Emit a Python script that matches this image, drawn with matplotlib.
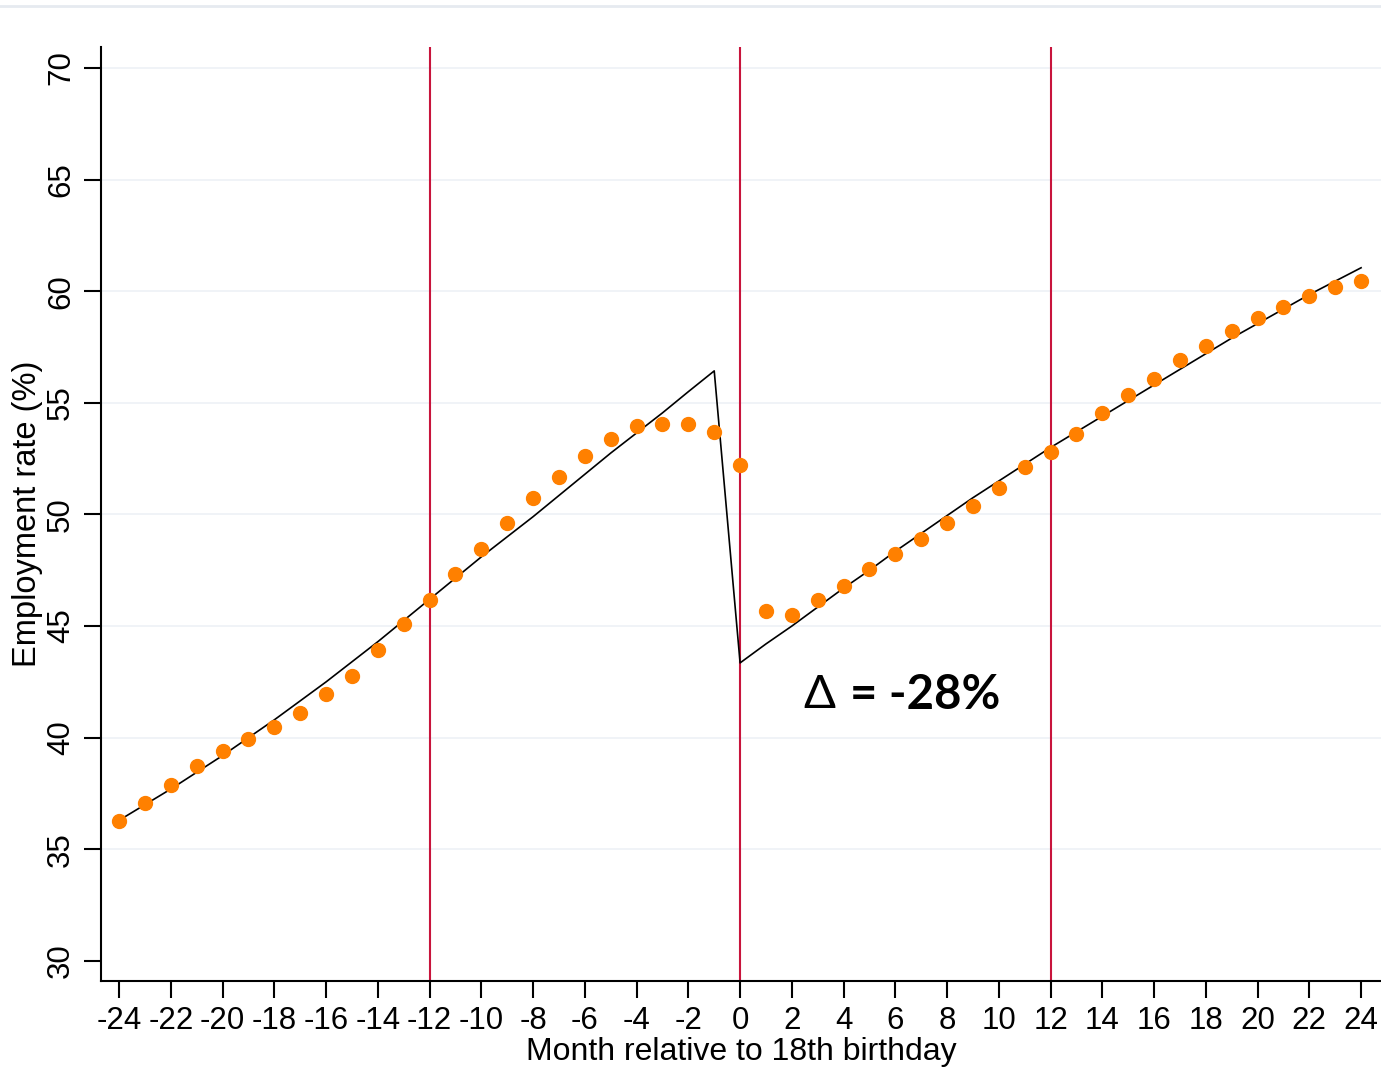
import numpy as np
import matplotlib.pyplot as plt
from matplotlib.lines import Line2D

# months relative to 18th birthday
months = list(range(-24, 25))

# monthly employment rate (%)
employment = [36.27, 37.08, 37.88, 38.73, 39.41, 39.94, 40.48, 41.11, 41.96, 42.77,
              43.93, 45.10, 46.17, 47.33, 48.45, 49.62, 50.74, 51.68, 52.62, 53.38,
              53.96, 54.05, 54.05, 53.70, 52.22, 45.68, 45.50, 46.17, 46.80, 47.56,
              48.23, 48.90, 49.62, 50.38, 51.19, 52.13, 52.80, 53.61, 54.55, 55.35,
              56.07, 56.92, 57.55, 58.22, 58.80, 59.29, 59.79, 60.19, 60.46]

# fitted trend, before and after the birthday
fit_pre = [36.3, 37.0, 37.7, 38.45, 39.2, 40.0, 40.8, 41.65, 42.5, 43.4, 44.3, 45.25,
           46.2, 47.15, 48.1, 49.0, 49.9, 50.85, 51.8, 52.75, 53.65, 54.55, 55.5, 56.43]
fit_post = [43.35, 44.2, 45.0, 45.85, 46.7, 47.5, 48.35, 49.15, 49.95, 50.75, 51.5,
            52.25, 53.0, 53.7, 54.4, 55.1, 55.8, 56.5, 57.2, 57.9, 58.55, 59.2,
            59.85, 60.45, 61.05]

cutoffs = [-12, 0, 12]
yticks = [30, 35, 40, 45, 50, 55, 60, 65, 70]
xticks = list(range(-24, 25, 2))
jump_symbol = '\u0394'
jump_value = '= -28%'

tick_font = ['Liberation Sans', 'DejaVu Sans']

fig = plt.figure(figsize=(13.81, 10.67), dpi=100)
ax = fig.add_axes([101 / 1381, 86 / 1067, 1 - 101 / 1381, 934 / 1067])

# faint rule across the top of the page
fig.add_artist(Line2D([0, 1], [1 - 6 / 1067] * 2, color='#e6eaf0', lw=2,
                      transform=fig.transFigure))

for y in yticks[1:]:
    ax.axhline(y, color='#eef1f6', lw=1.2, zorder=0)

for c in cutoffs:
    ax.axvline(c, color='#c8143c', lw=1.5, zorder=1)

ax.plot(months, fit_pre + fit_post, color='black', lw=1.2, zorder=2)
ax.plot(months, employment, 'o', color='#ff8000', ms=10, mec='#ff8000', zorder=3)

ax.set_xlim(-24.70, 24.77)
ax.set_ylim(29.10, 70.94)
ax.set_xticks(xticks)
ax.set_yticks(yticks)
# plain hyphens keep the crowded labels apart
ax.set_xticklabels([str(x) for x in xticks], family=tick_font, fontsize=22.5)
ax.set_yticklabels([str(y) for y in yticks], family=tick_font, fontsize=22.5,
                   rotation=90, va='center')

for s in ['top', 'right']:
    ax.spines[s].set_visible(False)
for s in ['left', 'bottom']:
    ax.spines[s].set_linewidth(1.5)
ax.tick_params(length=12, width=1.5, pad=6)

ax.set_xlabel('Month relative to 18th birthday', family=tick_font, fontsize=23,
              labelpad=1)
ax.set_ylabel('Employment rate (%)', family=tick_font, fontsize=23.5, labelpad=2)

ax.text(2.43, 41.9, jump_symbol, family=['Lato', 'DejaVu Sans'], fontsize=34,
        ha='left', va='center')
ax.text(4.25, 41.9, jump_value, family=['Lato', 'DejaVu Sans'], fontweight='bold',
        fontsize=34, ha='left', va='center')

fig.savefig('out.png', dpi=100)
